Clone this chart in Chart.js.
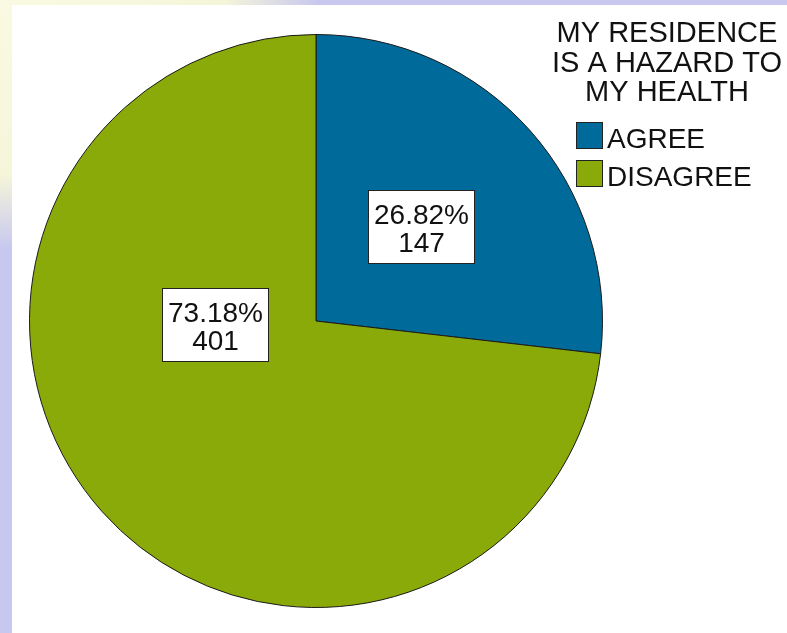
<!DOCTYPE html>
<html>
<head>
<meta charset="utf-8">
<script src="https://cdn.jsdelivr.net/npm/chart.js@4/dist/chart.umd.min.js"></script>
<style>
  html, body { margin: 0; padding: 0; }
  body {
    width: 787px; height: 633px; overflow: hidden; position: relative;
    background: radial-gradient(ellipse 320px 250px at 0px 0px, #fafae2 0%, #f5f5da 70%, rgba(200,200,240,0) 100%), #c7c7f0;
  }
  #paper { position: absolute; left: 12px; top: 5px; right: 0; bottom: 0; background: #fff; }
  #myPie { position: absolute; left: 0; top: 0; }
</style>
</head>
<body>
<div id="paper"></div>
<canvas id="myPie" width="787" height="633"></canvas>
<script>
const categories = ["AGREE", "DISAGREE"];
const counts = [147, 401];
const legendTitle = ["MY RESIDENCE", "IS A HAZARD TO", "MY HEALTH"];
const sliceColors = ["rgb(0, 107, 154)", "rgb(138, 170, 10)"];

const total = counts.reduce((a, b) => a + b, 0);
const FONT = "28px 'Liberation Sans', Arial, sans-serif";
const TITLE_FONT = "29px 'Liberation Sans', Arial, sans-serif";

// white boxes with percent + count, placed relative to the pie centre
const boxLabels = {
  id: "boxLabels",
  afterDatasetsDraw(chart, args, opts) {
    const ctx = chart.ctx;
    const arcs = chart.getDatasetMeta(0).data;
    ctx.save();
    ctx.font = FONT;
    ctx.textAlign = "center";
    ctx.textBaseline = "alphabetic";
    arcs.forEach((arc, i) => {
      const r = arc.outerRadius;
      const cx = arc.x + opts.offsets[i][0] * r;
      const cy = arc.y + opts.offsets[i][1] * r;
      const w = 106, h = 73;
      const x0 = Math.round(cx - w / 2) + 0.5, y0 = Math.round(cy - h / 2) + 0.5;
      ctx.fillStyle = "#fff";
      ctx.fillRect(x0, y0, w, h);
      ctx.strokeStyle = "#222";
      ctx.lineWidth = 1;
      ctx.strokeRect(x0, y0, w, h);
      ctx.fillStyle = "#111";
      const pct = (counts[i] / total * 100).toFixed(2) + "%";
      ctx.fillText(pct, x0 + w / 2, y0 + 33);
      ctx.fillText(String(counts[i]), x0 + w / 2, y0 + 61);
    });
    ctx.restore();
  },
};

// legend on the right with a three-line title
const sideLegend = {
  id: "sideLegend",
  afterDraw(chart) {
    const ctx = chart.ctx;
    ctx.save();
    ctx.font = TITLE_FONT;
    ctx.fillStyle = "#111";
    ctx.textAlign = "center";
    legendTitle.forEach((line, i) => {
      ctx.fillText(line, 667, 42 + i * 29.5);
    });
    ctx.font = FONT;
    ctx.textAlign = "left";
    categories.forEach((name, i) => {
      const y = 122 + i * 38;
      ctx.fillStyle = sliceColors[i];
      ctx.fillRect(576, y, 27, 27);
      ctx.strokeStyle = "#222";
      ctx.lineWidth = 1;
      ctx.strokeRect(576.5, y + 0.5, 26, 26);
      ctx.fillStyle = "#111";
      ctx.fillText(name, 607, y + 26);
    });
    ctx.restore();
  },
};

const ctx = document.getElementById("myPie").getContext("2d");
new Chart(ctx, {
  type: "pie",
  data: {
    labels: categories,
    datasets: [
      {
        data: counts,
        backgroundColor: sliceColors,
        borderColor: "#1a1a1a",
        borderWidth: 1,
      },
    ],
  },
  options: {
    responsive: false,
    animation: false,
    events: [],
    layout: {
      padding: { left: 29, right: 184, top: 34, bottom: 25 },
    },
    plugins: {
      legend: { display: false },
      tooltip: { enabled: false },
      boxLabels: {
        offsets: [[0.366, -0.329], [-0.352, 0.012]],
      },
    },
  },
  plugins: [boxLabels, sideLegend],
});
</script>
</body>
</html>
